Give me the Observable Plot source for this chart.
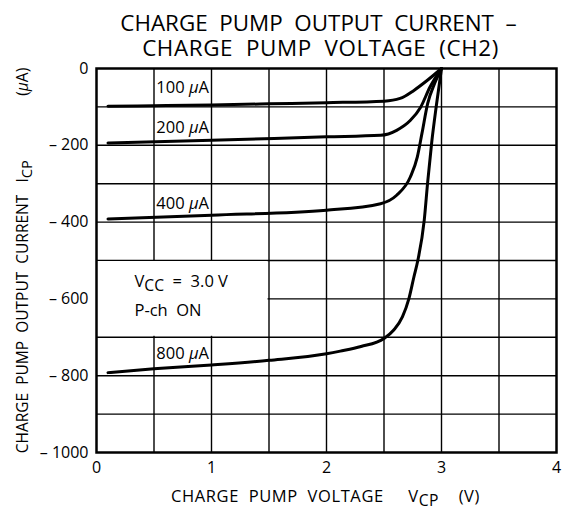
<!DOCTYPE html>
<html>
<head>
<meta charset="utf-8">
<script src="https://cdn.jsdelivr.net/npm/d3@7"></script>
<script src="https://cdn.jsdelivr.net/npm/@observablehq/plot@0.6"></script>
<style>
  html, body { margin: 0; padding: 0; background: #fff; }
  svg text { white-space: pre; }
</style>
</head>
<body>
<div id="chart"></div>
<script>
// ---- data ----
const seriesNames = ["100 μA", "200 μA", "400 μA", "800 μA"];
const v100 = [0.1, 0.5, 1.0, 1.5, 2.0, 2.5, 2.64, 2.76, 2.88, 3.0];
const i100 = [-98, -97, -95, -92, -89, -85, -78, -57, -30, 0];
const v200 = [0.1, 1.0, 2.0, 2.47, 2.61, 2.73, 2.82, 2.9, 3.0];
const i200 = [-194, -187, -178, -174, -161, -135, -100, -48, 0];
const v400 = [0.1, 1.0, 2.0, 2.47, 2.61, 2.73, 2.79, 2.83, 2.88, 2.94, 3.0];
const i400 = [-392, -382, -369, -352, -330, -282, -230, -169, -91, -39, 0];
const v800 = [0.1, 0.5, 1.0, 1.5, 2.0, 2.12, 2.3, 2.5, 2.585, 2.66, 2.716, 2.76, 2.794, 2.85, 2.88, 2.915, 2.955, 3.0];
const i800 = [-792, -782, -772, -760, -743, -736, -724, -703, -681, -647, -600, -543, -500, -395, -295, -192, -97, 0];

const labelV = [0.52, 0.52, 0.52, 0.52];
const labelI = [-49, -155, -351, -744];

const noteText = ["V{CC}  =  3.0 V", "P-ch  ON"];
const noteV = [0.33, 0.33];
const noteI = [-556, -632];

const xTicks = [0, 1, 2, 3, 4];
const yTicks = [0, -200, -400, -600, -800, -1000];
const xGrid = [0.5, 1, 1.5, 2, 2.5, 3, 3.5];
const yGrid = [-100, -200, -300, -400, -500, -600, -700, -800, -900];

const titleLines = ["CHARGE  PUMP  OUTPUT  CURRENT  –", "CHARGE  PUMP  VOLTAGE  (CH2)"];
const xLabel = "CHARGE  PUMP  VOLTAGE     V{CP}    (V)";
const yLabel = "CHARGE  PUMP  OUTPUT  CURRENT   I{CP}                (μA)";

// ---- build table ----
const curves = [];
[[v100, i100], [v200, i200], [v400, i400], [v800, i800]].forEach(([vs, is], k) => {
  vs.forEach((v, j) => curves.push({series: seriesNames[k], v, i: is[j]}));
});
const labels = seriesNames.map((s, k) => ({text: s, v: labelV[k], i: labelI[k]}));
const notes = noteText.map((t, k) => ({text: t, v: noteV[k], i: noteI[k]}));

const FONT = "Open Sans";

const plot = Plot.plot({
  width: 568,
  height: 513,
  marginLeft: 96,
  marginRight: 12,
  marginTop: 68,
  marginBottom: 61,
  style: {fontFamily: FONT, fontSize: "16px", color: "black", background: "white"},
  x: {domain: [0, 4]},
  y: {domain: [-1000, 0]},
  marks: [
    Plot.gridX(xGrid, {stroke: "black", strokeOpacity: 1, strokeWidth: 1.4}),
    Plot.gridY(yGrid, {stroke: "black", strokeOpacity: 1, strokeWidth: 1.4}),
    Plot.rect([{x1: 0, x2: 1.5, y1: -700, y2: -500}], {x1: "x1", x2: "x2", y1: "y1", y2: "y2", fill: "white", inset: 1}),
    Plot.line(curves, {x: "v", y: "i", z: "series", stroke: "black", strokeWidth: 3, curve: "monotone-x"}),
    Plot.text(labels, {x: "v", y: "i", text: "text", textAnchor: "start", fontSize: 16.5, fill: "black", ariaLabel: "curve-labels"}),
    Plot.text(notes, {x: "v", y: "i", text: "text", textAnchor: "start", fontSize: 16.5, fill: "black"}),
    Plot.axisX(xTicks, {tickSize: 0, tickPadding: 9, label: null, fontSize: 16, tickFormat: d => String(d)}),
    Plot.axisY(yTicks, {tickSize: 0, tickPadding: 8, label: null, fontSize: 16,
      tickFormat: d => d === 0 ? "0" : "– " + Math.abs(d)}),
    Plot.frame({stroke: "black", strokeWidth: 2.5}),
    Plot.text([titleLines[0]], {text: d => d, frameAnchor: "top", lineAnchor: "middle", textAnchor: "middle", dy: -45, dx: -8, fontSize: 22.4}),
    Plot.text([titleLines[1]], {text: d => d, frameAnchor: "top", lineAnchor: "middle", textAnchor: "middle", dy: -20, dx: -6, fontSize: 22.4}),
    Plot.text([xLabel], {text: d => d, frameAnchor: "bottom", lineAnchor: "middle", textAnchor: "middle", dy: 44, dx: -1, fontSize: 16.5}),
    Plot.text([yLabel], {text: d => d, frameAnchor: "left", lineAnchor: "middle", textAnchor: "middle", dx: -73, rotate: -90, fontSize: 15.5})
  ]
});

// subscripts and italic mu as tspans
d3.select(plot).selectAll("text").each(function() {
  const el = d3.select(this);
  if (el.selectAll("tspan").size() > 0) return;
  const s = this.textContent;
  if (!/[{μ]/.test(s)) return;
  const parts = s.split(/(\{[^}]+\}|μ)/).filter(p => p.length);
  el.text(null);
  let shifted = false;
  for (const p of parts) {
    const t = el.append("tspan");
    if (p.startsWith("{")) {
      t.text(p.slice(1, -1)).attr("dy", "4").attr("font-size", "0.95em");
      shifted = true;
    } else {
      if (shifted) { t.attr("dy", "-4"); shifted = false; }
      if (p === "μ") t.attr("font-style", "italic");
      t.text(p);
    }
  }
});
// slightly wider tracking on the x-axis title and second title line, like the reference
d3.select(plot).selectAll("text").filter(function() { return this.textContent.startsWith("CHARGE  PUMP  VOLTAGE  "); })
  .attr("letter-spacing", "0.6");

document.getElementById("chart").appendChild(plot);

// white boxes behind the curve labels (they mask the grid, as in the reference)
d3.select(plot).selectAll('g[aria-label="curve-labels"] text').each(function() {
  const b = this.getBBox();
  const tr = this.getAttribute("transform");
  const r = document.createElementNS("http://www.w3.org/2000/svg", "rect");
  r.setAttribute("x", b.x - 3);
  r.setAttribute("y", b.y - 1);
  r.setAttribute("width", b.width + 6);
  r.setAttribute("height", b.height + 1);
  r.setAttribute("fill", "white");
  if (tr) r.setAttribute("transform", tr);
  this.parentNode.insertBefore(r, this);
});
</script>
</body>
</html>
